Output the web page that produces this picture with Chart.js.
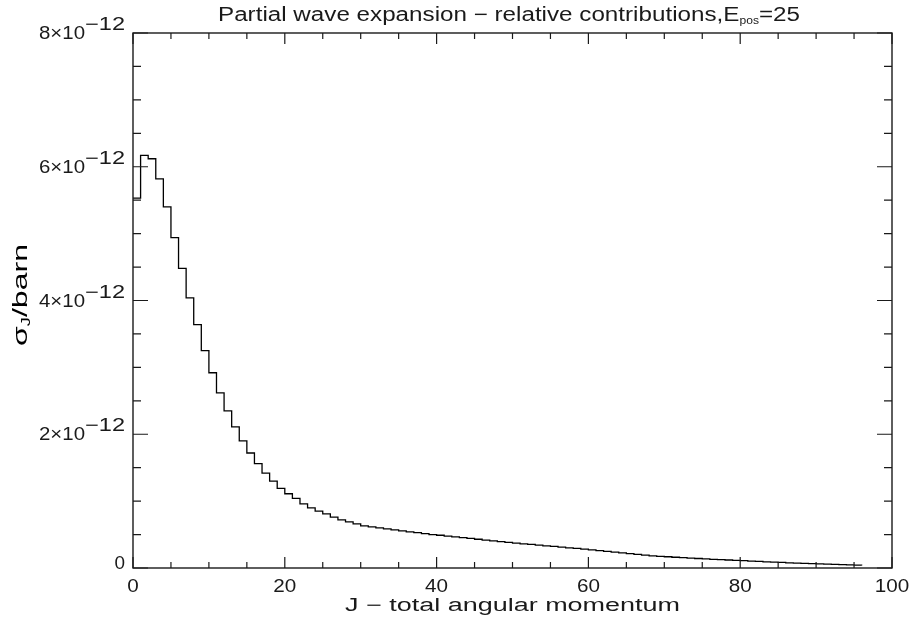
<!DOCTYPE html>
<html lang="en">
<head>
    <meta charset="UTF-8">
    <title>Partial wave expansion - relative contributions</title>
    <script src="https://cdn.jsdelivr.net/npm/chart.js"></script>
    <style>
        html, body { margin: 0; padding: 0; background: #fff; }
        #wrap { width: 911px; height: 621px; }
    </style>
</head>
<body>
    <div id="wrap"><canvas id="waveChart" width="911" height="621"></canvas></div>
    <script>
        // sigma_J in units of 1e-12 barn, J = 0..96
        var sigmaJ = [
            5.53, 6.17, 6.12, 5.82, 5.40, 4.94, 4.48, 4.04, 3.64, 3.25,
            2.92, 2.62, 2.35, 2.11, 1.90, 1.72, 1.56, 1.42, 1.30, 1.19,
            1.11, 1.04, 0.96, 0.90, 0.85, 0.81, 0.76, 0.72, 0.69, 0.66,
            0.63, 0.615, 0.60, 0.585, 0.57, 0.555, 0.54, 0.53, 0.515, 0.50,
            0.49, 0.478, 0.466, 0.454, 0.442, 0.43, 0.418, 0.406, 0.394, 0.382,
            0.372, 0.362, 0.352, 0.342, 0.332, 0.322, 0.312, 0.302, 0.292, 0.282,
            0.27, 0.259, 0.248, 0.237, 0.226, 0.215, 0.204, 0.193, 0.182, 0.175,
            0.168, 0.161, 0.154, 0.148, 0.142, 0.136, 0.130, 0.125, 0.120, 0.115,
            0.11, 0.104, 0.098, 0.093, 0.088, 0.083, 0.078, 0.074, 0.07, 0.066,
            0.062, 0.058, 0.054, 0.05, 0.046, 0.042, 0.038
        ];
        var scaleExp = -12;
        var xMajorTicks = [0, 20, 40, 60, 80, 100];
        var xMinorStep = 5;
        var yMajorTicks = [0, 2, 4, 6, 8];   // times 1e-12
        var yMinorStep = 0.5;

        var points = sigmaJ.map(function (v, j) {
            return { x: j, y: v * Math.pow(10, scaleExp) };
        });

        var ink = '#1a1a1a';
        var fontName = "'Liberation Sans', 'DejaVu Sans', sans-serif";

        // draw a list of [text, size, dy] pieces stretched to a total width
        // align: 'left' | 'center' | 'right' relative to x
        function wideText(ctx, pieces, x, y, width, align) {
            var natural = 0;
            pieces.forEach(function (p) {
                ctx.font = p[1] + 'px ' + fontName;
                natural += ctx.measureText(p[0]).width;
            });
            var k = width / natural;
            var x0 = align === 'center' ? x - width / 2 : (align === 'right' ? x - width : x);
            ctx.save();
            ctx.translate(x0, y);
            ctx.scale(k, 1);
            ctx.textAlign = 'left';
            var cx = 0;
            pieces.forEach(function (p) {
                ctx.font = p[1] + 'px ' + fontName;
                ctx.fillText(p[0], cx, p[2] || 0);
                cx += ctx.measureText(p[0]).width;
            });
            ctx.restore();
        }

        // axes box, inward ticks and all the text (IDL style)
        var idlAxes = {
            id: 'idlAxes',
            afterDraw: function (chart) {
                var ctx = chart.ctx;
                var xs = chart.scales.x, ys = chart.scales.y;
                var a = chart.chartArea;
                ctx.save();
                ctx.strokeStyle = ink;
                ctx.lineWidth = 1.4;
                ctx.strokeRect(a.left, a.top, a.right - a.left, a.bottom - a.top);

                ctx.lineWidth = 1.2;
                ctx.beginPath();
                for (var xv = 0; xv <= 100; xv += xMinorStep) {
                    var px = xs.getPixelForValue(xv);
                    var len = xMajorTicks.indexOf(xv) >= 0 ? 11 : 6;
                    ctx.moveTo(px, a.bottom); ctx.lineTo(px, a.bottom - len);
                    ctx.moveTo(px, a.top); ctx.lineTo(px, a.top + len);
                }
                for (var yv = 0; yv <= 8; yv += yMinorStep) {
                    var py = ys.getPixelForValue(yv * Math.pow(10, scaleExp));
                    var ylen = yMajorTicks.indexOf(yv) >= 0 ? 15 : 8;
                    ctx.moveTo(a.left, py); ctx.lineTo(a.left + ylen, py);
                    ctx.moveTo(a.right, py); ctx.lineTo(a.right - ylen, py);
                }
                ctx.stroke();

                ctx.fillStyle = ink;
                ctx.textBaseline = 'alphabetic';
                // x tick labels
                xMajorTicks.forEach(function (t) {
                    var s = String(t);
                    wideText(ctx, [[s, 18]], xs.getPixelForValue(t), a.bottom + 24,
                        11.5 * s.length, 'center');
                });

                // y tick labels with exponent
                yMajorTicks.forEach(function (t) {
                    var py = ys.getPixelForValue(t * Math.pow(10, scaleExp));
                    var right = a.left - 8;
                    if (t === 0) {
                        wideText(ctx, [['0', 18]], right, py + 1, 10.5, 'right');
                        return;
                    }
                    wideText(ctx, [['\u2212' + Math.abs(scaleExp), 18]], right, py - 3, 40, 'right');
                    wideText(ctx, [[t + '\u00d710', 18]], right - 40, py + 6, 46, 'right');
                });

                // title with subscript
                wideText(ctx, [
                    ['Partial wave expansion \u2212 relative contributions,E', 20, 0],
                    ['pos', 10, 3],
                    ['=25', 20, 0]
                ], 509, 21, 582, 'center');

                // x axis title
                wideText(ctx, [['J \u2212 total angular momentum', 18, 0]],
                    (a.left + a.right) / 2, 611, 335, 'center');

                // y axis title, rotated
                ctx.save();
                ctx.translate(27, 295);
                ctx.rotate(-Math.PI / 2);
                ctx.fillStyle = '#000';
                wideText(ctx, [['\u03c3', 21, 0], ['J', 12, 3], ['/barn', 21, 0]], 0, 0, 102, 'center');
                ctx.restore();

                ctx.restore();
            }
        };

        var chart = new Chart(document.getElementById('waveChart'), {
            type: 'line',
            data: {
                datasets: [{
                    data: points,
                    stepped: 'before',
                    borderColor: '#000',
                    borderWidth: 1.3,
                    pointRadius: 0,
                    fill: false
                }]
            },
            options: {
                responsive: false,
                animation: false,
                layout: { padding: { left: 133, right: 19, top: 33, bottom: 53 } },
                plugins: { legend: { display: false }, tooltip: { enabled: false } },
                scales: {
                    x: { type: 'linear', min: 0, max: 100, display: false },
                    y: { type: 'linear', min: 0, max: 8e-12, display: false }
                }
            },
            plugins: [idlAxes]
        });
    </script>
</body>
</html>
